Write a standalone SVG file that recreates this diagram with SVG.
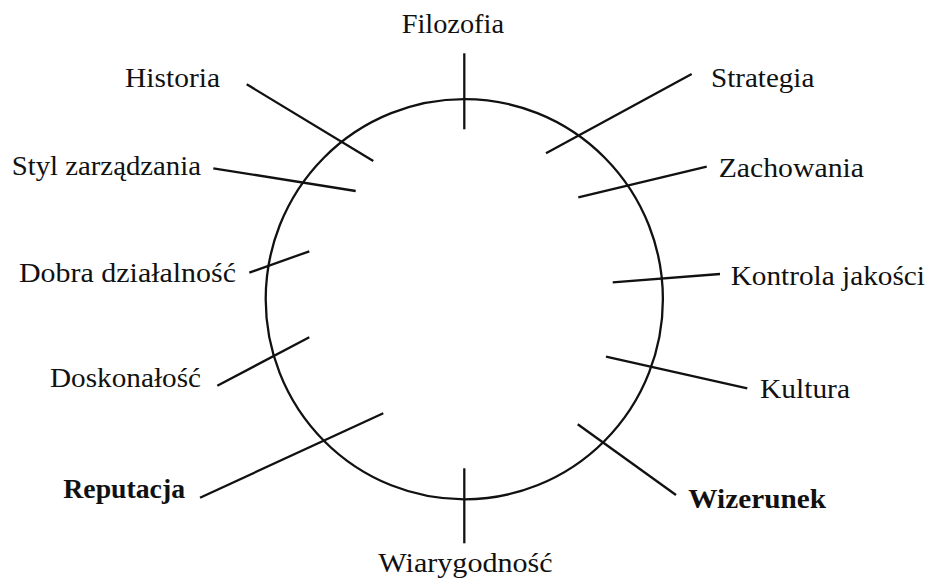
<svg xmlns="http://www.w3.org/2000/svg" width="929" height="580" viewBox="0 0 929 580">
<style>
.t{font-family:"Liberation Serif","DejaVu Serif",serif;font-size:27px;fill:#111}
.b{font-weight:bold}
.c{fill:none;stroke:#111;stroke-width:2.3}
.l{stroke:#111;stroke-width:2.3;stroke-linecap:butt}
</style>
<rect width="929" height="580" fill="#fff"/>
<g id="circle"><ellipse class="c" cx="464.3" cy="299.2" rx="198.6" ry="200.1"/></g>
<g id="connectors">
<line class="l" x1="464.3" y1="53.3" x2="464.3" y2="129.3"/>
<line class="l" x1="246.7" y1="84.3" x2="373.3" y2="161"/>
<line class="l" x1="213.3" y1="168.3" x2="355.7" y2="191"/>
<line class="l" x1="249.3" y1="272.7" x2="309.3" y2="251.3"/>
<line class="l" x1="217.3" y1="385.7" x2="309.3" y2="337.3"/>
<line class="l" x1="200" y1="497.7" x2="383.3" y2="413.3"/>
<line class="l" x1="464.3" y1="468.3" x2="464.3" y2="543.3"/>
<line class="l" x1="676" y1="495" x2="577.7" y2="424.3"/>
<line class="l" x1="747.3" y1="388.3" x2="606" y2="356.7"/>
<line class="l" x1="720" y1="274" x2="612.7" y2="282.3"/>
<line class="l" x1="706.7" y1="166.7" x2="578.3" y2="197.3"/>
<line class="l" x1="691.7" y1="74" x2="546" y2="153.3"/>
</g>
<g id="filozofia"><text class="t" x="401.7" y="33.3" textLength="102.3" lengthAdjust="spacingAndGlyphs">Filozofia</text></g>
<g id="historia"><text class="t" x="125" y="87.3" textLength="95" lengthAdjust="spacingAndGlyphs">Historia</text></g>
<g id="styl"><text class="t" x="11.7" y="175" textLength="189.3" lengthAdjust="spacingAndGlyphs">Styl zarządzania</text></g>
<g id="dobra"><text class="t" x="19" y="282.3" textLength="217" lengthAdjust="spacingAndGlyphs">Dobra działalność</text></g>
<g id="doskonalosc"><text class="t" x="50" y="386.7" textLength="151" lengthAdjust="spacingAndGlyphs">Doskonałość</text></g>
<g id="reputacja"><text class="t b" x="63.3" y="498.3" textLength="121.7" lengthAdjust="spacingAndGlyphs">Reputacja</text></g>
<g id="wiarygodnosc"><text class="t" x="378.3" y="571.7" textLength="174.4" lengthAdjust="spacingAndGlyphs">Wiarygodność</text></g>
<g id="wizerunek"><text class="t b" x="688.3" y="508.3" textLength="137.7" lengthAdjust="spacingAndGlyphs">Wizerunek</text></g>
<g id="kultura"><text class="t" x="760" y="398.3" textLength="90" lengthAdjust="spacingAndGlyphs">Kultura</text></g>
<g id="kontrola"><text class="t" x="730.7" y="285" textLength="194.3" lengthAdjust="spacingAndGlyphs">Kontrola jakości</text></g>
<g id="zachowania"><text class="t" x="718.7" y="176.7" textLength="145.3" lengthAdjust="spacingAndGlyphs">Zachowania</text></g>
<g id="strategia"><text class="t" x="711" y="86.7" textLength="103.3" lengthAdjust="spacingAndGlyphs">Strategia</text></g>
</svg>
